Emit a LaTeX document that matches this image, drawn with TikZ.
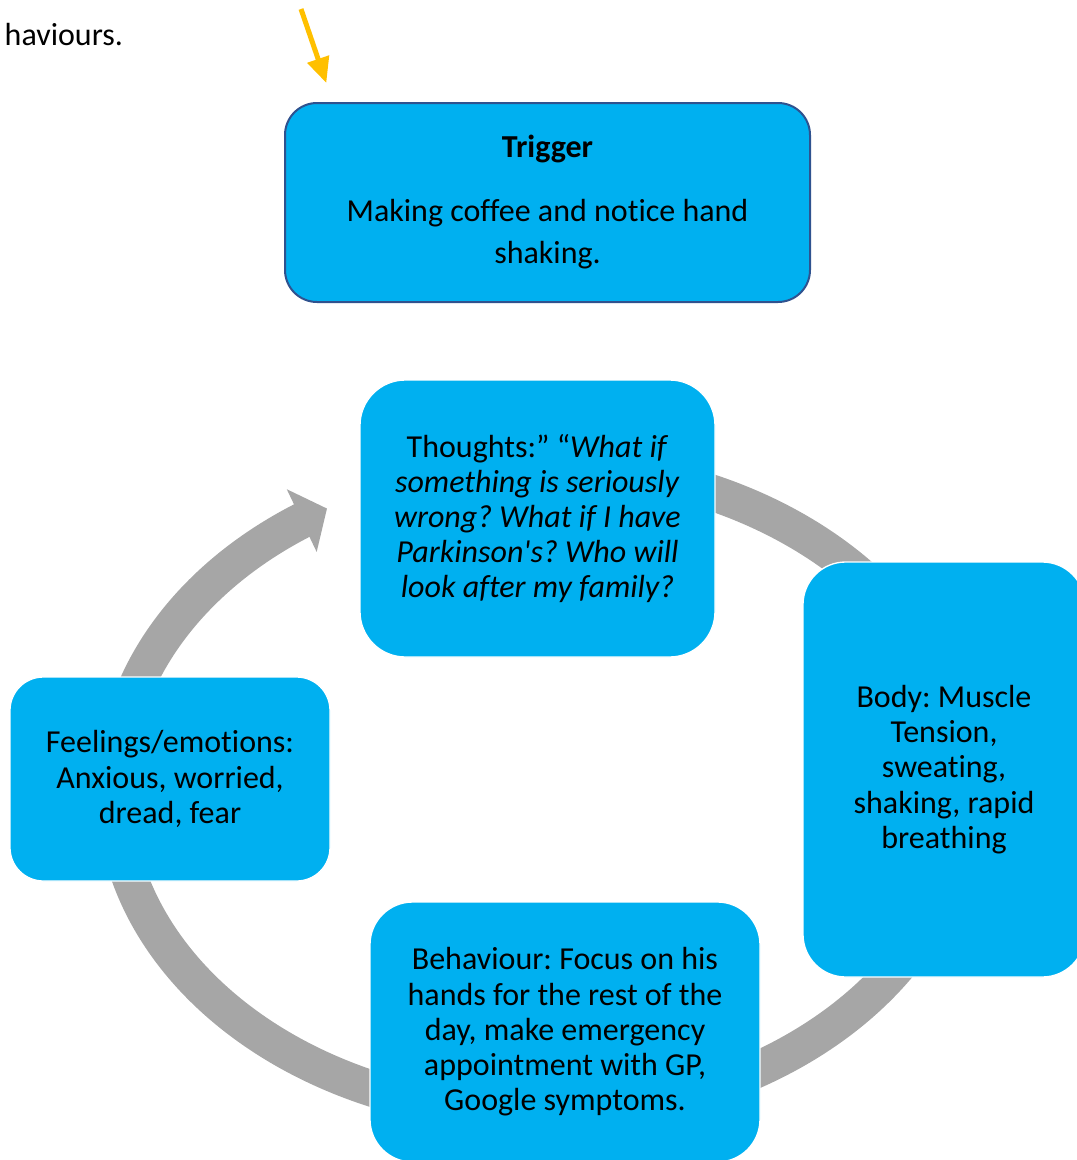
\documentclass[tikz,border=0pt]{standalone}
\usepackage{fontspec}
\setmainfont{Carlito}[Ligatures={TeXOff,NoCommon}]
\frenchspacing
\usetikzlibrary{arrows.meta,bending,positioning}
\definecolor{boxblue}{HTML}{00B0F0}
\definecolor{trigline}{HTML}{2F528F}
\definecolor{ringgray}{HTML}{A6A6A6}
\definecolor{pointer}{HTML}{FFC000}
\tikzset{
  base/.style={%
    align=center,
    fill=boxblue,
    inner sep=0pt,outer sep=0pt,
    font=\fontsize{24}{26.4}\selectfont,
  },
  stage/.style n args={3}{%
    base,draw=white,line width=1pt,
    minimum width=#1,
    minimum height=#2,
    rounded corners=#3,
  },
  ring/.style={%
    draw=ringgray,line width=27pt,
  },
  pointerarrow/.style={%
    draw=pointer,line width=3.75pt,
    -{Triangle[length=19pt,width=16.5pt]},
  }
}

\begin{document}
\begin{tikzpicture}[x=0.75pt,y=0.75pt]
\useasboundingbox (0,0) rectangle (1077,-1160);
\node[anchor=base west,font=\fontsize{24}{26.4}\selectfont] (prevtext) at (0,-45) {haviours.};
\node[stage={393.75pt}{149.25pt}{24pt},draw=trigline,line width=1.5pt,
      font=\fontsize{24}{31.5}\selectfont] (trigger) at (547.5,-202.5)
      {\textbf{Trigger}\\[16.5pt]Making coffee and notice hand\\shaking.};
\coordinate (ptrtail) at (301,-9);
\coordinate (ptrtip) at ([xshift=31pt,yshift=15pt]trigger.north west);
\draw[pointerarrow] (ptrtail) -- (ptrtip);
% cycle ring, under the boxes
\coordinate (cyc) at (540,-790);
\draw[ring] (cyc) ++(70:426 and 325) arc[start angle=70,end angle=30,x radius=426,y radius=325];
\draw[ring] (cyc) ++(-30:426 and 325) arc[start angle=-30,end angle=-70,x radius=426,y radius=325];
\draw[ring] (cyc) ++(-105:426 and 325) arc[start angle=-105,end angle=-170,x radius=426,y radius=325];
\draw[ring,-{Triangle[length=21pt,width=51pt,flex]}]
  (cyc) ++(170:426 and 325) arc[start angle=170,end angle=120,x radius=426,y radius=325];
% stages
\node[stage={266.25pt}{207.75pt}{34pt}] (thoughts) at (537.5,-518.5)
  {Thoughts:” “\textit{What if}\\\textit{something is seriously}\\\textit{wrong? What if I have}\\\textit{Parkinson's? Who will}\\\textit{look after my family?}};
\node[stage={211.5pt}{311.25pt}{32pt}] (body) at (944,-769.5)
  {Body: Muscle\\Tension,\\sweating,\\shaking, rapid\\breathing};
\node[stage={292.5pt}{195pt}{32pt}] (behaviour) at (565,-1032)
  {Behaviour: Focus on his\\hands for the rest of the\\day, make emergency\\appointment with GP,\\Google symptoms.};
\node[stage={240pt}{153pt}{25pt}] (feelings) at (170,-779)
  {Feelings/emotions:\\Anxious, worried,\\dread, fear};
\end{tikzpicture}
\end{document}
